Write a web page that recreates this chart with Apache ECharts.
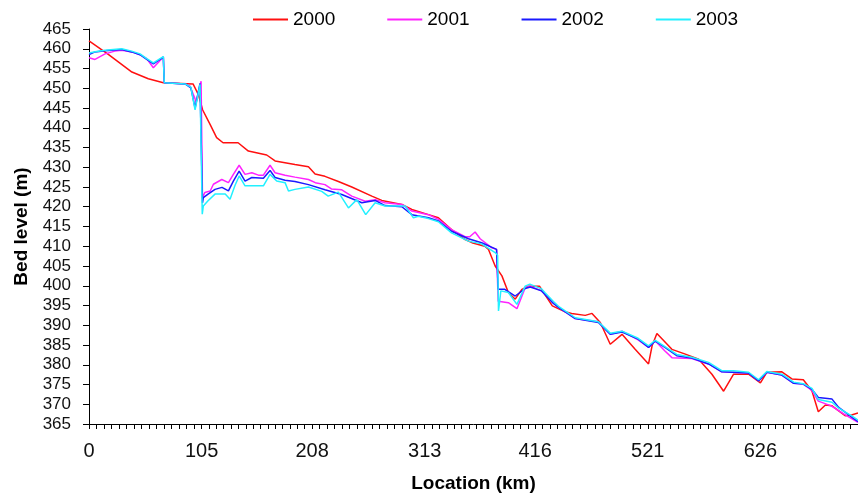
<!DOCTYPE html>
<html>
<head>
<meta charset="utf-8">
<script src="https://cdn.jsdelivr.net/npm/echarts@6/dist/echarts.min.js"></script>
<style>
html,body{margin:0;padding:0;background:#fff;}
#chart{width:858px;height:498px;}
</style>
</head>
<body>
<div id="chart"></div>
<script>
// ---- data ----
const seriesNames = ['2000', '2001', '2002', '2003'];
const xTickLabels = [0, 105, 208, 313, 416, 521, 626];
const yMin = 365, yMax = 465, yStep = 5;
const xMax = 717;

const loc2000 = [0,18,40,55.3,69.3,97,102,106,113,119,125,139,148.6,165.7,173.5,192,204.6,210.8,220,232.5,245,263.7,273,291.7,301,316.5,325.8,338,350.7,357,369,372.5,378.7,385,391,397.4,403.6,409.8,420,426,432,444,450,462.7,469,476.7,486,497,509,521.7,525,529.5,543.5,556,568.4,580.8,591.7,601,615,626,632,646,655.4,666,674,680,686.6,692.8,705,711,717];
const bed2000 = [462,458.6,454.1,452.4,451.4,451.1,448.4,444.5,440.8,437.5,436.2,436.2,434.1,433.1,431.6,430.7,430.1,428.3,427.7,426.4,425,422.7,421.6,420.6,419.3,418,417.2,414.2,411.7,410.9,410,409.2,405,402.5,398.3,396.6,399.1,399.9,399.9,397.4,394.9,393.4,393,392.5,393,390.7,385.2,387.7,384,380.2,384.8,387.9,383.9,382.7,381.4,377.6,373.3,377.6,377.6,375.4,378.1,378.2,376.4,376.2,373.4,368.1,369.8,369.6,367.1,367.3,367.8];

const loc2001 = [0,5.6,15,24,30.5,40,47.6,53.8,60,69.3,70.2,89.6,94,100,104.5,105.8,108,113,116,123.8,130,134.6,140,145.5,151.8,158,162.6,168.8,173.5,182.8,192,204.6,211,220,226,235.7,245,257.5,266.8,276,291.7,301,316.5,325.8,338,350.7,355,360,364.7,375.6,380,381.5,391,399,406.7,411.4,422,433,437.8,453.4,475,486,497,512,521.7,528,537,543.5,562,577.7,590,615,624.3,632,646,657,666,674,680,692,704,717];
const bed2001 = [457.7,457.3,458.7,459.4,459.6,459.2,458.5,457.5,455.2,457.9,451.4,451.1,450.6,446.6,451.8,422.3,423.6,424,425.7,426.9,426.1,428.2,430.5,428.2,428.6,428,428,430.5,428.6,428,427.5,426.9,426.1,425.6,424.5,424.3,422.7,421.4,421.8,421,420.6,418.9,418,416.8,414.2,412.4,412.4,413.6,411.9,409.6,409.2,396.1,395.7,394.2,399.5,399.9,398.7,395.7,394.5,391.7,390.9,387.7,388.5,386.3,384.4,386,383.5,381.8,381.6,380.2,378.2,377.9,376,378.1,377.4,375.3,375.1,373.5,370.8,369.6,367.5,365.4];

const loc2002 = [0,5.6,15,30.5,39.8,47.6,53.8,60,69.3,70.2,89.6,95,98.9,103.5,104.8,105.8,106.6,111,117.5,124,130,134.6,140,145.5,151.8,162.6,168.8,173.5,182.8,192,204.6,220,235.7,254.4,266.8,276,291.7,301,316.5,325.8,338,353.8,366,380,381.5,387.7,397.4,406.7,411.4,422,433,437.8,453.4,475,486,497,512,521.7,528,537,548,562,577.7,590,615,624.3,632,646,657,666,674,680,692.8,699,711.5,717];
const bed2002 = [458.5,459.2,459.5,459.8,459.2,458.5,457.3,456.2,457.9,451.4,451.1,450.1,445,451.2,451.2,421,422.3,423.2,424.4,424.9,424,426.5,429,426.5,427.4,427.2,429.2,427.4,426.7,426.4,425.6,424.3,423.1,421,421.6,420.3,420,418,417.2,416.4,413.8,411.9,410.9,409.2,399.1,399.1,397.4,399.3,399.7,398.7,395.5,394.5,391.7,390.7,387.7,388.3,386.5,384.4,386,384.4,382.3,381.7,380.2,378.2,377.9,375.9,378.1,377.4,375.3,375.1,373.8,371.7,371.3,369.2,366.7,365.6];

const loc2003 = [0,7,15,30.5,39.8,47.6,53.8,60,69.3,70.2,89.6,95,98.9,103.5,104.8,105.6,106.6,111,117.5,127,131.5,136,140,145.5,162.6,168.8,175,182.8,186,192,204.6,217,223,232.5,241.9,249.7,258,266.8,276,294.8,302.5,307,316.5,325.8,338,353.8,366,378.7,381,381.8,384,391,399,406.7,411,422,425,433,437.8,453.4,475,486,497,512,521.7,528,537,548,562,577.7,590,601,615,624.3,632,646,657,666,674,680,692.8,699,711.5,717];
const bed2003 = [458.9,459.3,459.6,460,459.4,458.7,457.5,456.4,458,451.4,451.1,450.3,444.5,451,451,418.1,420.2,421.5,423.2,423.2,421.9,425.3,427.8,425.3,425.3,428.2,426.5,426.1,424,424.4,425,423.9,422.7,423.7,419.7,421.8,418,421,420.2,420.2,417.2,417.6,417,416.2,413.4,411.3,410.6,408.4,407.7,393.6,398.7,398.3,395.3,399.9,400.4,399.2,398.3,396,394.8,391.9,390.9,388,388.5,386.7,384.8,386.2,384.6,382.6,381.9,380.6,378.5,378.5,378.1,376.2,378.3,377.6,375.6,375.2,374,371.2,370.5,369,367,366];

const colors = ['#FF1010', '#FF22FF', '#1A1AFF', '#22F0FF'];

// ---- build ----
function pairs(xs, ys) {
  const out = [];
  const n = Math.min(xs.length, ys.length);
  for (let i = 0; i < n; i++) out.push([xs[i], ys[i]]);
  return out;
}
// minor ticks: 15 subdivisions between labelled ticks, continuing past the last label
const xTicks = [];
for (let i = 0; i < xTickLabels.length - 1; i++) {
  const a = xTickLabels[i], b = xTickLabels[i + 1];
  for (let k = 0; k < 15; k++) xTicks.push(a + (b - a) * k / 15);
}
{
  const last = xTickLabels[xTickLabels.length - 1];
  const step = (last - xTickLabels[xTickLabels.length - 2]) / 15;
  for (let v = last; v <= xMax + 0.01; v += step) xTicks.push(v);
}

const allData = [pairs(loc2000, bed2000), pairs(loc2001, bed2001), pairs(loc2002, bed2002), pairs(loc2003, bed2003)];
const font = 'Liberation Sans, Arial, sans-serif';

const chart = echarts.init(document.getElementById('chart'), null, {renderer: 'canvas'});
chart.setOption({
  animation: false,
  backgroundColor: '#fff',
  color: colors,
  textStyle: {fontFamily: font},
  legend: {
    left: 253, top: 10, padding: 0,
    icon: 'rect',
    itemWidth: 35, itemHeight: 2, itemGap: 52,
    textStyle: {fontSize: 19, color: '#000', fontFamily: font},
    data: seriesNames
  },
  grid: {left: 89, right: 0, top: 29, bottom: 73, containLabel: false},
  xAxis: {
    type: 'value', min: 0, max: xMax,
    axisLine: {show: true, onZero: false, lineStyle: {color: '#000', width: 1}},
    axisTick: {show: true, customValues: xTicks, length: 5, inside: false, lineStyle: {color: '#000', width: 1}},
    axisLabel: {customValues: xTickLabels, fontSize: 20, margin: 17, color: '#111', fontFamily: font},
    splitLine: {show: false},
    name: 'Location (km)', nameLocation: 'middle', nameGap: 50,
    nameTextStyle: {fontSize: 19, fontWeight: 'bold', color: '#000', fontFamily: font}
  },
  yAxis: {
    type: 'value', min: yMin, max: yMax, interval: yStep,
    axisLine: {show: true, lineStyle: {color: '#000', width: 1}},
    axisTick: {show: true, length: 6, lineStyle: {color: '#000', width: 1}},
    axisLabel: {fontSize: 17, margin: 18, color: '#111', fontFamily: font},
    splitLine: {show: false},
    name: 'Bed level (m)', nameLocation: 'middle', nameGap: 57, nameRotate: 90,
    nameTextStyle: {fontSize: 19, fontWeight: 'bold', color: '#000', fontFamily: font}
  },
  series: seriesNames.map((n, i) => ({
    name: n, type: 'line', data: allData[i],
    symbol: 'none', showSymbol: false,
    lineStyle: {width: 1.5, color: colors[i]},
    itemStyle: {color: colors[i]},
    z: 2 + i
  }))
});
</script>
</body>
</html>
